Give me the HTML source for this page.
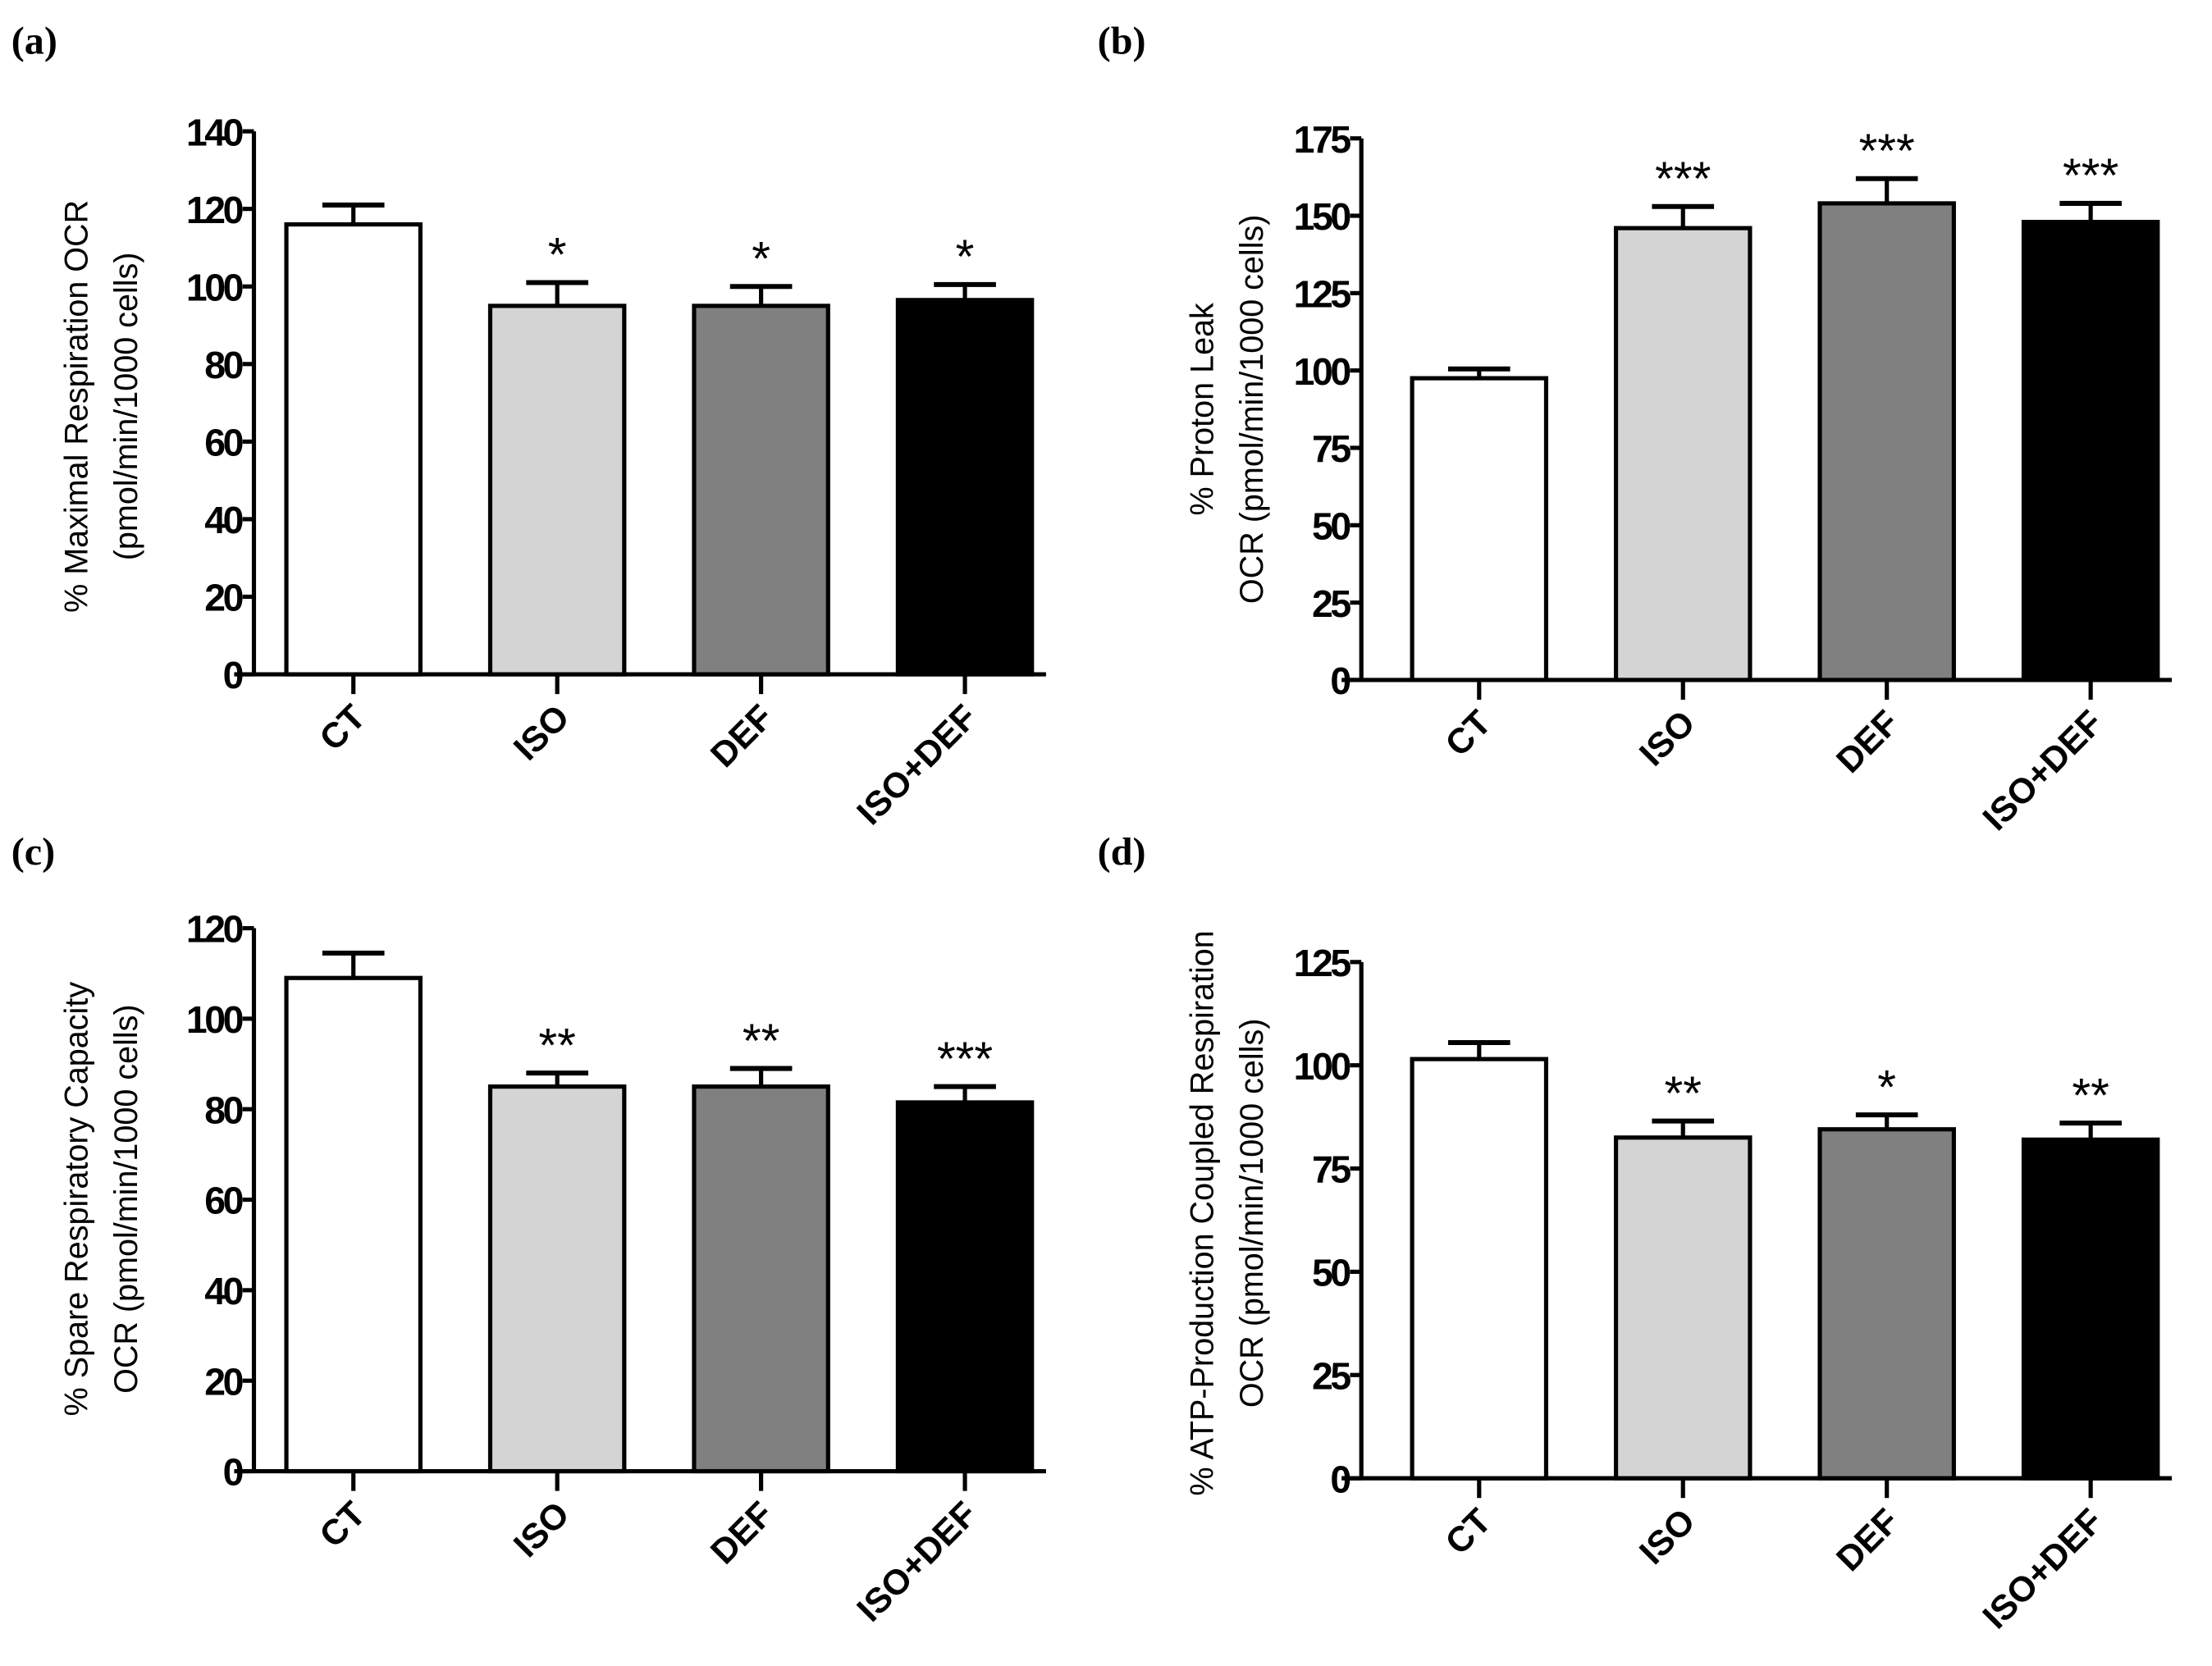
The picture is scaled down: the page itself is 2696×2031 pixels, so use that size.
<!DOCTYPE html>
<html><head><meta charset="utf-8"><style>
html,body{margin:0;padding:0;background:#fff;}
svg{display:block;}
text{font-family:"Liberation Sans",Arial,sans-serif;}
.tick{font-size:27px;font-weight:bold;letter-spacing:-2px;}
.cat{font-size:25px;font-weight:bold;}
.ttl{font-size:23px;}
.star{font-size:34px;}
.plab{font-family:"Liberation Serif",serif;font-size:28px;font-weight:bold;}
</style></head><body>
<svg id="fig" width="2696" height="2031" viewBox="0 0 1568 1181" xmlns="http://www.w3.org/2000/svg"></svg>
<script>
const categories=["CT","ISO","DEF","ISO+DEF"];
const fills=["#ffffff","#d4d4d4","#808080","#000000"];
const valsA=[116,95,95,96.5];
const errA=[121,101,100,100.5];
const starsA=["","*","*","*"];
const ticksA=[0,20,40,60,80,100,120,140];
const valsB=[97.5,146,154,148];
const errB=[100.5,153,162,154];
const starsB=["","***","***","***"];
const ticksB=[0,25,50,75,100,125,150,175];
const valsC=[109,85,85,81.5];
const errC=[114.5,88,89,85];
const starsC=["","**","**","***"];
const ticksC=[0,20,40,60,80,100,120];
const valsD=[101.5,82.5,84.5,82];
const errD=[105.5,86.5,88,86];
const starsD=["","**","*","**"];
const ticksD=[0,25,50,75,100,125];

const NS="http://www.w3.org/2000/svg";
const svg=document.getElementById('fig');
function mk(tag,attrs,parent){const e=document.createElementNS(NS,tag);for(const k in attrs)e.setAttribute(k,attrs[k]);(parent||svg).appendChild(e);return e;}

function panel(id,label,lx,ly,ax,y0,yTop,maxV,xStart,ticks,vals,errs,stars,titles,titleX,titleY){
  const g=mk('g',{});
  
  
  const yS=v=>y0-(v/maxV)*(y0-yTop);
  const pl=mk('text',{x:lx,y:ly,class:'plab'},g);pl.textContent=label;
  
  
  const bw=95, step=144.5;
  const axEnd=xStart+3*step+bw+10;
  const ya=mk('line',{x1:ax,y1:yTop,x2:ax,y2:y0,stroke:'#000','stroke-width':3},g);
  
  
  const xa=mk('line',{x1:ax-14,y1:y0,x2:axEnd,y2:y0,stroke:'#000','stroke-width':3},g);
  
  
  ticks.forEach(t=>{
    const y=yS(t);
    mk('line',{x1:ax-8,y1:y,x2:ax,y2:y,stroke:'#000','stroke-width':3},g);
    const tx=mk('text',{x:ax-9,y:y+10,'text-anchor':'end',class:'tick'},g);tx.textContent=t;
    
    
  });
  vals.forEach((v,i)=>{
    const x=xStart+i*step, cx=x+bw/2;
    const e=errs[i];
    mk('line',{x1:cx,y1:yS(e),x2:cx,y2:yS(v),stroke:'#000','stroke-width':3},g);
    mk('line',{x1:cx-22,y1:yS(e),x2:cx+22,y2:yS(e),stroke:'#000','stroke-width':3.5},g);
    const r=mk('rect',{x:x,y:yS(v),width:bw,height:y0-yS(v),fill:fills[i],stroke:'#000','stroke-width':3},g);
    
    
    if(stars[i]){const s=mk('text',{x:cx,y:yS(e)-8,'text-anchor':'middle',class:'star'},g);s.textContent=stars[i];
      
      }
    mk('line',{x1:cx,y1:y0,x2:cx,y2:y0+14,stroke:'#000','stroke-width':3},g);
    const c=mk('text',{x:cx+10,y:y0+32,'text-anchor':'end',class:'cat',transform:`rotate(-45 ${cx+10} ${y0+32})`},g);
    c.textContent=categories[i];
    
    
  });
  titles.forEach((t,k)=>{
    const x=titleX+k*35;
    const tt=mk('text',{x:x,y:titleY,'text-anchor':'middle',class:'ttl',transform:`rotate(-90 ${x} ${titleY})`},g);
    tt.textContent=t;
    
    
  });
}
panel('a','(a)',8,38,180,478,93,140,203,ticksA,valsA,errA,starsA,["% Maximal Respiration OCR","(pmol/min/1000 cells)"],62,288);
panel('b','(b)',778,38,965,482,98,175,1001,ticksB,valsB,errB,starsB,["% Proton Leak","OCR (pmol/min/1000 cells)"],860,290);
panel('c','(c)',8,613,180,1043,658,120,203,ticksC,valsC,errC,starsC,["% Spare Respiratory Capacity","OCR (pmol/min/1000 cells)"],62,850);
panel('d','(d)',778,613,965,1048,682,125,1001,ticksD,valsD,errD,starsD,["% ATP-Production Coupled Respiration","OCR (pmol/min/1000 cells)"],860,860);
</script>
</body></html>
